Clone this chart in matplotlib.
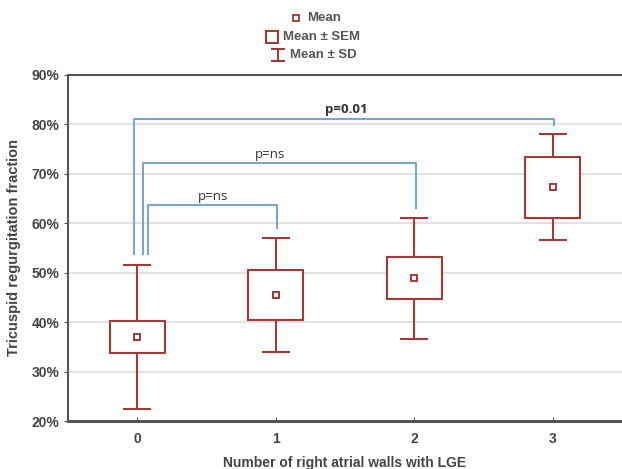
import matplotlib
matplotlib.use('Agg')
import matplotlib.pyplot as plt
from matplotlib.patches import Rectangle
from matplotlib.ticker import FuncFormatter

plt.rcParams['font.family'] = ['Liberation Sans', 'DejaVu Sans']

# data (in %)
groups = [0, 1, 2, 3]
group_labels = ['0', '1', '2', '3']
means = [37.0, 45.5, 48.9, 67.3]
sem = [3.15, 5.05, 4.3, 6.15]
sd = [14.5, 11.6, 12.25, 10.75]

# comparisons: (group a, group b, label)
comparisons = [(0, 1, 'p=ns'), (0, 2, 'p=ns'), (0, 3, 'p=0.01')]

red = '#A33A3A'
blue = '#7BA3D6'
txt = '#444444'

fig = plt.figure(figsize=(6.22, 4.69), dpi=100)
ax = fig.add_axes([68 / 622, 48 / 469, 1 - 68 / 622, (421 - 75) / 469])

# grid
ax.set_axisbelow(True)
ax.yaxis.grid(True, color='#dddddd', linewidth=1.2)

# mean +- sem boxes, mean +- sd whiskers
for g, m, se, s in zip(groups, means, sem, sd):
    ax.add_patch(Rectangle((g - 0.2, m - se), 0.4, 2 * se, facecolor='white',
                           edgecolor=red, linewidth=1.5, zorder=3))
    ax.vlines(g, m + se, m + s, color=red, linewidth=1.5, zorder=3)
    ax.vlines(g, m - s, m - se, color=red, linewidth=1.5, zorder=3)
    ax.hlines([m + s, m - s], g - 0.1, g + 0.1, color=red, linewidth=1.5, zorder=3)
ax.plot(groups, means, linestyle='none', marker='s', markersize=5, markerfacecolor='white',
        markeredgecolor=red, markeredgewidth=1.4, zorder=4)

# significance brackets
left_x = [0.08, 0.045, -0.02]
tops = [63.6, 72.1, 81.1]
label_x = [0.55, 0.96, 1.51]
for (a, b, lab), lx, top, tx in zip(comparisons, left_x, tops, label_x):
    y_a = means[a] + sd[a] + 2.3
    y_b = means[b] + sd[b] + 1.9
    rx = b + 0.01
    ax.plot([lx, lx, rx, rx], [y_a, top, top, y_b], color=blue, linewidth=1.5, zorder=2)
    bold = lab == 'p=0.01'
    ax.text(tx, top + 0.6, lab, ha='center', va='bottom', fontsize=9.5,
            color='#333333', fontweight='bold' if bold else 'normal',
            family=['Open Sans', 'DejaVu Sans'])

ax.set_xlim(-0.5, 3.5)
ax.set_ylim(20, 90)
ax.set_xticks(groups)
ax.set_xticklabels(group_labels)
ax.set_yticks(range(20, 91, 10))
ax.yaxis.set_major_formatter(FuncFormatter(lambda v, p: f'{v:.0f}%'))

for sp in ['left', 'top', 'bottom']:
    ax.spines[sp].set_color('#555555')
    ax.spines[sp].set_linewidth(1.5)
ax.spines['bottom'].set_linewidth(2.2)
ax.spines['right'].set_visible(False)
ax.tick_params(axis='y', length=3, color='#555555', labelsize=10, labelcolor=txt, pad=3)
ax.tick_params(axis='x', length=3, direction='in', color='#555555', labelsize=10,
               labelcolor=txt, pad=8)
for t in ax.get_xticklabels() + ax.get_yticklabels():
    t.set_fontweight('bold')

ax.set_xlabel('Number of right atrial walls with LGE', fontsize=10, fontweight='bold',
              color=txt, labelpad=7)
ax.set_ylabel('Tricuspid regurgitation fraction', fontsize=10.5, fontweight='bold',
              color=txt, labelpad=8)

# legend drawn in figure pixels on top
lg = fig.add_axes([0, 0, 1, 1], facecolor='none')
lg.set_xlim(0, 622)
lg.set_ylim(469, 0)
lg.axis('off')
lg.plot([296], [18], marker='s', markersize=5, markerfacecolor='white',
        markeredgecolor=red, markeredgewidth=1.3, linestyle='none')
lg.add_patch(Rectangle((265.5, 31), 12, 12, facecolor='white', edgecolor=red, linewidth=1.5))
lg.plot([278, 278], [49, 61], color=red, linewidth=1.5)
lg.plot([272, 284], [49, 49], color=red, linewidth=1.5)
lg.plot([272, 284], [61, 61], color=red, linewidth=1.5)
lg.text(307, 18, 'Mean', fontsize=9.5, fontweight='bold', color='#555555', va='center')
lg.text(283, 37, 'Mean ± SEM', fontsize=9.5, fontweight='bold', color='#555555', va='center')
lg.text(290, 55, 'Mean ± SD', fontsize=9.5, fontweight='bold', color='#555555', va='center')

fig.savefig('out.png', dpi=100)
